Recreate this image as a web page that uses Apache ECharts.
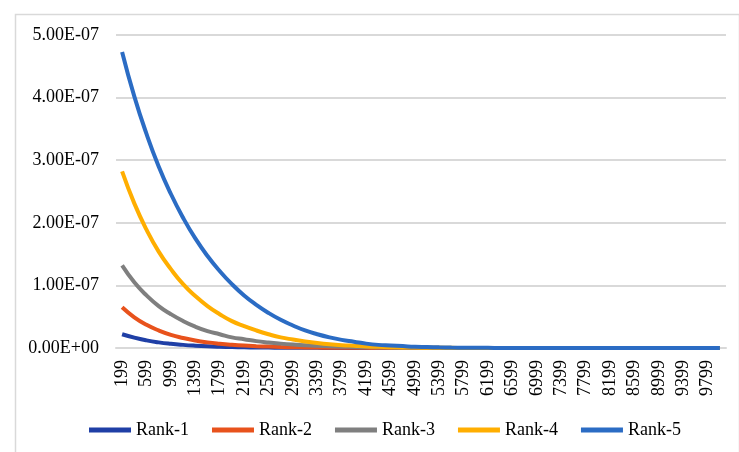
<!DOCTYPE html>
<html>
<head>
<meta charset="utf-8">
<script src="https://cdn.jsdelivr.net/npm/echarts@6/dist/echarts.min.js"></script>
<style>
	html, body { margin: 0; padding: 0; background: #fff; }
	#chart { width: 739px; height: 452px; }
</style>
</head>
<body>
<div id="chart"></div>
<script>
// x categories (step 200)
var categories = ['199','399','599','799','999','1199','1399','1599','1799','1999',
	'2199','2399','2599','2799','2999','3199','3399','3599','3799','3999',
	'4199','4399','4599','4799','4999','5199','5399','5599','5799','5999',
	'6199','6399','6599','6799','6999','7199','7399','7599','7799','7999',
	'8199','8399','8599','8799','8999','9199','9399','9599','9799','9999'];

// values in units of 1e-7
var rank1 = [0.22,0.165,0.122,0.09,0.067,0.05,0.037,0.027,0.02,0.015,
	0.011,0.008,0.006,0.0045,0.003,0.0025,0.002,0.001,0.001,0,
	0,0,0,0,0,0,0,0,0,0,0,0,0,0,0,0,0,0,0,0,0,0,0,0,0,0,0,0,0,0];
var rank2 = [0.65,0.49,0.37,0.28,0.21,0.16,0.12,0.09,0.068,0.051,
	0.038,0.029,0.022,0.016,0.012,0.009,0.007,0.005,0.004,0.003,
	0.002,0.001,0.001,0,0,0,0,0,0,0,0,0,0,0,0,0,0,0,0,0,0,0,0,0,0,0,0,0,0,0];
var rank3 = [1.32,1.05,0.84,0.67,0.54,0.43,0.34,0.27,0.22,0.17,
	0.14,0.11,0.088,0.07,0.055,0.043,0.034,0.027,0.021,0.016,
	0.012,0.009,0.007,0.005,0.004,0.003,0.002,0.001,0.001,0,
	0,0,0,0,0,0,0,0,0,0,0,0,0,0,0,0,0,0,0,0];
var rank4 = [2.82,2.31,1.89,1.54,1.26,1.02,0.83,0.67,0.54,0.43,
	0.35,0.28,0.22,0.17,0.135,0.105,0.08,0.06,0.045,0.035,
	0.025,0.018,0.013,0.009,0.006,0.004,0.003,0.002,0.001,0,
	0,0,0,0,0,0,0,0,0,0,0,0,0,0,0,0,0,0,0,0];
var rank5 = [4.73,4.02,3.42,2.90,2.46,2.08,1.75,1.47,1.23,1.02,
	0.84,0.69,0.56,0.45,0.36,0.28,0.22,0.17,0.13,0.10,
	0.07,0.05,0.04,0.03,0.02,0.015,0.01,0.007,0.005,0.003,
	0.002,0.001,0.001,0,0,0,0,0,0,0,0,0,0,0,0,0,0,0,0,0];

var names = ['Rank-1','Rank-2','Rank-3','Rank-4','Rank-5'];
var colors = ['#1f3fa6','#e8521c','#7f7f7f','#ffae00','#2b6cc4'];
var font = '"Liberation Serif", "DejaVu Serif", serif';

var fmtExp = function(v){
	var parts = v.toExponential(2).split('e');
	var e = parts[1];
	var sign = e.charAt(0);
	var digits = e.slice(1);
	if (digits.length < 2) digits = '0' + digits;
	return parts[0] + 'E' + sign + digits;
}

var makeSeries = function(name, arr, color){
	return {
		name: name,
		type: 'line',
		smooth: true,
		symbol: 'none',
		lineStyle: { color: color, width: 4 },
		itemStyle: { color: color },
		data: arr.map(function(v){ return v * 1e-7; })
	};
}

var chart = echarts.init(document.getElementById('chart'));
chart.setOption({
	animation: false,
	textStyle: { fontFamily: font },
	graphic: [{
		type: 'rect',
		left: 13, top: 12,
		shape: { width: 724, height: 450 },
		style: { fill: 'none', stroke: '#d9d9d9', lineWidth: 1.5 },
		silent: true
	}],
	grid: { left: 116, right: 13, top: 35, bottom: 104 },
	legend: {
		data: names,
		left: 84,
		top: 416,
		icon: 'rect',
		itemWidth: 42,
		itemHeight: 5,
		itemGap: 23,
		textStyle: { fontFamily: font, fontSize: 18, color: '#000' }
	},
	xAxis: {
		type: 'category',
		boundaryGap: true,
		data: categories,
		axisLine: { lineStyle: { color: '#d9d9d9', width: 2 } },
		axisTick: { show: false },
		axisLabel: {
			interval: 1,
			rotate: 90,
			margin: 12,
			fontFamily: font,
			fontSize: 18,
			color: '#000'
		}
	},
	yAxis: {
		type: 'value',
		min: 0,
		max: 5e-7,
		interval: 1e-7,
		axisLine: { show: false },
		axisTick: { show: false },
		splitLine: { lineStyle: { color: '#d9d9d9', width: 2 } },
		axisLabel: {
			margin: 17,
			fontFamily: font,
			fontSize: 18,
			color: '#000',
			formatter: fmtExp
		}
	},
	series: [
		makeSeries(names[0], rank1, colors[0]),
		makeSeries(names[1], rank2, colors[1]),
		makeSeries(names[2], rank3, colors[2]),
		makeSeries(names[3], rank4, colors[3]),
		makeSeries(names[4], rank5, colors[4])
	]
});
</script>
</body>
</html>
